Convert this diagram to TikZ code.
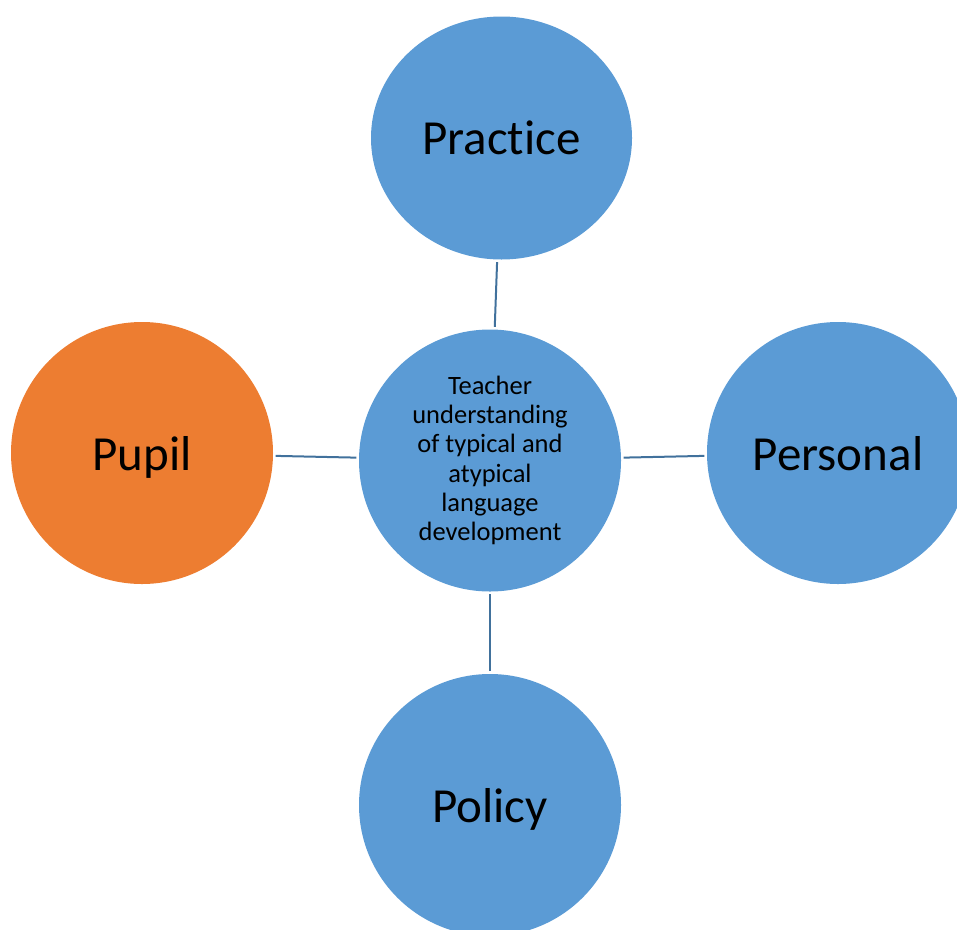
\documentclass[tikz,border=0pt]{standalone}
\usepackage{fontspec}
\setmainfont[Ligatures=NoCommon]{Carlito}
\usetikzlibrary{shapes.geometric}
\definecolor{cblue}{HTML}{5B9BD5}
\definecolor{corange}{HTML}{ED7D31}
\definecolor{cline}{HTML}{41719C}
\tikzset{
  bubble/.style={circle, fill=cblue, draw=none, minimum size=262pt, inner sep=0pt, text depth=0pt,
    font=\fontsize{49}{58}\selectfont},
  link/.style={draw=cline, line width=2pt, shorten <=2.5pt, shorten >=2.5pt}
}
\begin{document}
\begin{tikzpicture}[x=1pt,y=-1pt]
\useasboundingbox (0,0) rectangle (957,929);
\clip (0,0) rectangle (957,929);
\node[bubble, ellipse, minimum width=261pt, minimum height=243pt] (prac) at (501.5,138) {Practice};
\node[bubble, align=center, font=\fontsize{26.5}{29.3}\selectfont, text depth=] (ctr) at (490,460.5)
  {Teacher\\understanding\\of typical and\\atypical\\language\\development};
\node[bubble, fill=corange] (pupil) at (142,453) {Pupil};
\node[bubble] (pers) at (838,453) {Personal};
\node[bubble] (pol) at (490,805) {Policy};
\draw[link] (prac) -- (ctr);
\draw[link] (pupil) -- (ctr);
\draw[link] (ctr) -- (pers);
\draw[link] (ctr) -- (pol);
\end{tikzpicture}
\end{document}
